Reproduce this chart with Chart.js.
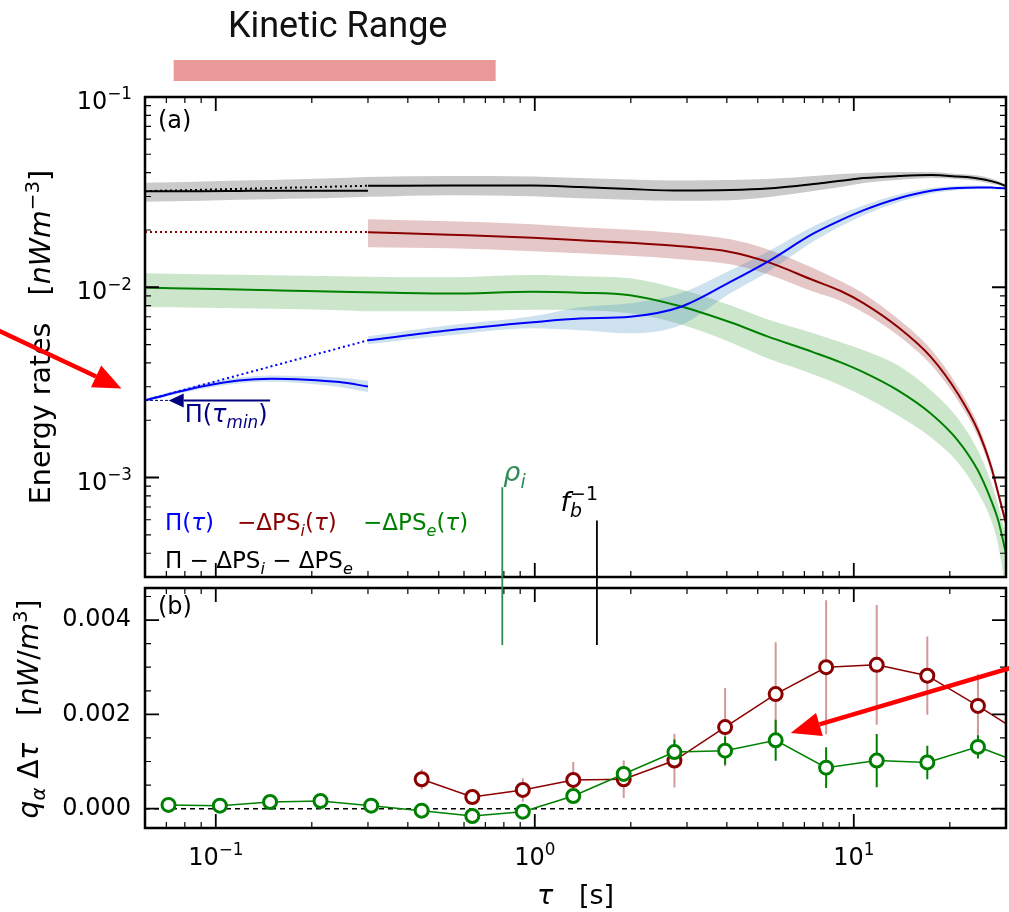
<!DOCTYPE html>
<html>
<head>
<meta charset="utf-8">
<script src="https://cdn.jsdelivr.net/npm/chart.js@4.4.0/dist/chart.umd.min.js"></script>
<style>
  html, body { margin: 0; padding: 0; background: #fff; }
  #wrap { position: relative; width: 1009px; height: 912px; }
  #wrap canvas { position: absolute; left: 0; top: 0; }
</style>
</head>
<body>
<div id="wrap">
  <canvas id="panelA" width="1009" height="912"></canvas>
  <canvas id="panelB" width="1009" height="912"></canvas>
</div>
<script>
// ---- panel (a): energy rates vs tau ----
const tauLow = [0.06, 0.0727, 0.0903, 0.118, 0.150, 0.192, 0.244, 0.30];
const tauHigh = [0.30, 0.541, 0.986, 1.385, 1.99, 2.86, 4.10, 5.36, 7.48, 9.10, 10.75, 13.75, 17.46, 21.2, 24.5, 26.97, 28.37, 30];
const tauAll = tauLow.concat(tauHigh.slice(1));
const tauBridge = [0.06, 0.30];

// Pi(tau)
const piLow = [0.002543, 0.002767, 0.003012, 0.003240, 0.003308, 0.003268, 0.003174, 0.003012];
const piLowHi = [0.002589, 0.002835, 0.003105, 0.003360, 0.003442, 0.003421, 0.003360, 0.003221];
const piLowLo = [0.002497, 0.002701, 0.002923, 0.003124, 0.003183, 0.003124, 0.002994, 0.002818];
const piHigh = [0.005262, 0.005938, 0.006543, 0.006843, 0.006994, 0.007873, 0.01066, 0.01359, 0.01917, 0.02252, 0.02543, 0.02929, 0.03213, 0.03320, 0.03348, 0.03340, 0.03320, 0.03308];
const piHighHi = [0.005522, 0.006310, 0.007037, 0.007848, 0.008234, 0.009299, 0.01229, 0.01538, 0.02095, 0.02422, 0.02701, 0.03068, 0.03320, 0.03402, 0.03422, 0.03402, 0.03380, 0.03360];
const piHighLo = [0.005012, 0.005589, 0.006084, 0.005938, 0.005725, 0.006310, 0.009299, 0.01199, 0.01747, 0.02095, 0.02393, 0.02801, 0.03105, 0.03240, 0.03280, 0.03280, 0.03260, 0.03260];
const piBridge = [0.002543, 0.005262];

// -dPS_i(tau)
const psiHigh = [0.01948, 0.01889, 0.01822, 0.01767, 0.01714, 0.01643, 0.01533, 0.01359, 0.01088, 0.009561, 0.008234, 0.006181, 0.004296, 0.002757, 0.001767, 0.001133, 0.0008234, 0.0005725];
const psiHi = [0.02280, 0.02226, 0.02146, 0.02069, 0.02007, 0.01924, 0.01789, 0.01585, 0.01259, 0.01079, 0.009243, 0.006827, 0.004718, 0.002994, 0.001901, 0.001207, 0.0008703, 0.0005974];
const psiLo = [0.01624, 0.01604, 0.01547, 0.01510, 0.01465, 0.01404, 0.01321, 0.01171, 0.009470, 0.008474, 0.007342, 0.005589, 0.003909, 0.002543, 0.001644, 0.001062, 0.0007800, 0.0005489];
const psiBridge = [0.0195, 0.0195];

// -dPS_e(tau)
const pse = [0.00996, 0.009892, 0.00982, 0.009737, 0.009643, 0.009550, 0.009469, 0.009412, 0.009265, 0.009469, 0.009355, 0.009078, 0.007943, 0.006543, 0.005522, 0.004549, 0.004030, 0.003569, 0.002870, 0.002164, 0.001565, 0.001088, 0.0007566, 0.0005937, 0.0003981];
const pseHi = [0.01185, 0.01178, 0.01171, 0.01164, 0.01157, 0.01150, 0.01143, 0.01136, 0.01129, 0.01160, 0.01143, 0.01115, 0.009760, 0.008040, 0.006786, 0.005725, 0.005134, 0.004661, 0.003886, 0.002870, 0.002045, 0.001387, 0.0009412, 0.0007123, 0.0004952];
const pseLo = [0.007876, 0.007848, 0.007800, 0.007753, 0.007706, 0.007660, 0.007568, 0.007477, 0.007477, 0.007620, 0.007568, 0.007298, 0.006386, 0.005134, 0.004230, 0.003484, 0.003049, 0.002669, 0.002120, 0.001624, 0.001199, 0.0008337, 0.0005937, 0.0004387, 0.00025];

// Pi - dPS_i - dPS_e
const resLow = [0.0320, 0.0320, 0.0320, 0.0321, 0.0322, 0.0322, 0.0322, 0.0322];
const resHigh = [0.03414, 0.03422, 0.03422, 0.03360, 0.03280, 0.03221, 0.03240, 0.03300, 0.03485, 0.03627, 0.03748, 0.03839, 0.03886, 0.03816, 0.03734, 0.03614, 0.03527, 0.03402];
const resHi = [0.03539, 0.03561, 0.03592, 0.03636, 0.03667, 0.03702, 0.03748, 0.03792, 0.03839, 0.03816, 0.03748, 0.03680, 0.03636, 0.03658, 0.03702, 0.03839, 0.03934, 0.03981, 0.04030, 0.04030, 0.03934, 0.03863, 0.03724, 0.03614, 0.03463];
const resLo = [0.02811, 0.02829, 0.02853, 0.02881, 0.02905, 0.02930, 0.02958, 0.02987, 0.03049, 0.03012, 0.02940, 0.02887, 0.02853, 0.02870, 0.02976, 0.03201, 0.03360, 0.03527, 0.03658, 0.03748, 0.03702, 0.03614, 0.03505, 0.03443, 0.03340];
const resBridge = [0.0320, 0.03414];

// ---- panel (b): heating per bin ----
const tauBins = [0.0711, 0.103, 0.148, 0.213, 0.307, 0.442, 0.637, 0.917, 1.32, 1.90, 2.74, 3.95, 5.69, 8.19, 11.8, 17.0, 24.5, 35.3];
const qE = [0.00008, 0.000064, 0.000142, 0.000163, 0.000064, -0.000042, -0.000155, -0.000064, 0.000269, 0.000736, 0.00120, 0.00123, 0.00145, 0.00087, 0.00102, 0.00098, 0.00131, 0.00091];
const qEErr = [0.00004, 0.00004, 0.00004, 0.00004, 0.00004, 0.00005, 0.00005, 0.00006, 0.0001, 0.00013, 0.000265, 0.0003, 0.000435, 0.00043, 0.000566, 0.000354, 0.000248, 0.00025];
const qI = [null, null, null, null, null, 0.000624, 0.000248, 0.000397, 0.000609, 0.000624, 0.00102, 0.00173, 0.00243, 0.00300, 0.00305, 0.00282, 0.00218, 0.0015];
const qIErr = [null, null, null, null, null, 0.00021, 0.0001, 0.00025, 0.00038, 0.0004, 0.00057, 0.00083, 0.0011, 0.00142, 0.00127, 0.00083, 0.00067, 0.0006];

// axes
const xMajor = [0.1, 1, 10];
const yMajorA = [1e-3, 1e-2, 1e-1];
const yMajorB = [0, 0.002, 0.004];
const yMinorB = [0.0005, 0.001, 0.0015, 0.0025, 0.003, 0.0035, 0.0045];

// annotations
const kineticRange = [0.0738, 0.754];
const rhoI = { tau: 0.791, top: 0.000889, bottom: 0.00347 };
const fbInv = { tau: 1.566, top: 0.000594, bottom: 0.00347 };
const piMin = { tau: 0.0712, tail: 0.148, value: 0.002543 };
const arrowA = { from: [0.0208, 0.005937], to: [0.0506, 0.00294] };
const arrowB = { from: [31, 0.002984], to: [6.34, 0.001606] };

const BLUE = '#0000ff', DARKRED = '#8b0000', GREEN = '#008000';
const MINUS = '\u2212';

const pts = (xs, ys) => xs.map((x, i) => ({ x, y: ys[i] })).filter(p => p.y !== null);

function lineSet(xs, ys, color, dotted) {
  return {
    data: pts(xs, ys), borderColor: color, borderWidth: 2,
    borderDash: dotted ? [2, 3] : [], pointRadius: 0, fill: false,
    cubicInterpolationMode: 'monotone'
  };
}

function bandSets(xs, hi, lo, color) {
  return [
    { data: pts(xs, hi), borderColor: 'rgba(0,0,0,0)', borderWidth: 0, pointRadius: 0,
      backgroundColor: color, fill: '+1', cubicInterpolationMode: 'monotone' },
    { data: pts(xs, lo), borderColor: 'rgba(0,0,0,0)', borderWidth: 0, pointRadius: 0,
      fill: false, cubicInterpolationMode: 'monotone' }
  ];
}

function logMinor(lo, hi) {
  const out = [];
  for (let d = Math.floor(Math.log10(lo)); d <= Math.ceil(Math.log10(hi)); d++) {
    for (let m = 2; m <= 9; m++) {
      const v = m * Math.pow(10, d);
      if (v > lo * 1.001 && v < hi * 0.999) out.push(v);
    }
  }
  return out;
}

function expo(v) {
  const e = Math.round(Math.log10(v));
  return e < 0 ? MINUS + (-e) : String(e);
}

// mathtext-like runs: kind '' roman, 'i' italic, 'b' subscript, 'p' superscript, 'n' no advance
function richText(ctx, x, y, parts, size, align, color) {
  const segs = parts.map(([t, k = '']) => {
    const small = k.includes('b') || k.includes('p');
    const fs = small ? size * 0.7 : size;
    const font = (k.includes('i') ? 'italic ' : '') + fs.toFixed(1) + 'px "DejaVu Sans"';
    ctx.font = font;
    const w = ctx.measureText(t).width;
    return { t, font, w, adv: k.includes('n') ? 0 : w,
      dy: k.includes('b') ? size * 0.25 : k.includes('p') ? -size * 0.4 : 0 };
  });
  const total = segs.reduce((s, g) => s + g.adv, 0) + (segs.length ? segs[segs.length - 1].w - segs[segs.length - 1].adv : 0);
  let cx = align === 'center' ? x - total / 2 : align === 'right' ? x - total : x;
  ctx.save();
  ctx.fillStyle = color || '#000';
  ctx.textAlign = 'left';
  ctx.textBaseline = 'alphabetic';
  segs.forEach(g => { ctx.font = g.font; ctx.fillText(g.t, cx, y + g.dy); cx += g.adv; });
  ctx.restore();
}

function rotatedText(ctx, x, y, parts, size) {
  ctx.save();
  ctx.translate(x, y);
  ctx.rotate(-Math.PI / 2);
  richText(ctx, 0, 0, parts, size, 'center', '#000');
  ctx.restore();
}

function arrow(ctx, x0, y0, x1, y1, color, width, headLen, headHalf) {
  const ang = Math.atan2(y1 - y0, x1 - x0);
  const bx = x1 - headLen * Math.cos(ang), by = y1 - headLen * Math.sin(ang);
  ctx.save();
  ctx.strokeStyle = color; ctx.fillStyle = color; ctx.lineWidth = width;
  ctx.beginPath(); ctx.moveTo(x0, y0); ctx.lineTo(bx, by); ctx.stroke();
  ctx.beginPath();
  ctx.moveTo(x1, y1);
  ctx.lineTo(bx + headHalf * Math.sin(ang), by - headHalf * Math.cos(ang));
  ctx.lineTo(bx - headHalf * Math.sin(ang), by + headHalf * Math.cos(ang));
  ctx.closePath(); ctx.fill();
  ctx.restore();
}

// box with inward ticks on all four sides
function drawFrame(chart, xMaj, xMin, yMaj, yMin) {
  const { ctx, chartArea: a, scales: { x, y } } = chart;
  ctx.save();
  ctx.strokeStyle = '#000';
  const marks = (vals, len, w, horiz) => {
    ctx.lineWidth = w;
    ctx.beginPath();
    vals.forEach(v => {
      if (horiz) {
        const px = x.getPixelForValue(v);
        ctx.moveTo(px, a.top); ctx.lineTo(px, a.top + len);
        ctx.moveTo(px, a.bottom); ctx.lineTo(px, a.bottom - len);
      } else {
        const py = y.getPixelForValue(v);
        ctx.moveTo(a.left, py); ctx.lineTo(a.left + len, py);
        ctx.moveTo(a.right, py); ctx.lineTo(a.right - len, py);
      }
    });
    ctx.stroke();
  };
  marks(xMin, 6, 1.2, true);
  marks(xMaj, 14, 1.8, true);
  marks(yMin, 6, 1.2, false);
  marks(yMaj, 14, 1.8, false);
  ctx.lineWidth = 2.5;
  ctx.strokeRect(a.left, a.top, a.right - a.left, a.bottom - a.top);
  ctx.restore();
}

const panelADecor = {
  id: 'panelADecor',
  afterDraw(chart) {
    const { ctx, chartArea: a, scales: { x, y } } = chart;
    drawFrame(chart, xMajor, logMinor(0.06, 30), yMajorA, logMinor(3e-4, 0.1));

    yMajorA.forEach(v => richText(ctx, a.left - 13, y.getPixelForValue(v) + 12,
      [['10'], [expo(v), 'p']], 24, 'right'));

    rotatedText(ctx, 50, (a.top + a.bottom) / 2,
      [['Energy rates   ['], ['nWm', 'i'], [MINUS + '3', 'p'], [']']], 28.5);

    richText(ctx, a.left + 13, a.top + 31, [['(a)']], 24, 'left');

    // legend
    const l1 = a.bottom - 47, l2 = a.bottom - 9;
    richText(ctx, a.left + 20, l1, [['\u03a0('], ['\u03c4', 'i'], [')']], 23, 'left', BLUE);
    richText(ctx, a.left + 92, l1, [[MINUS + '\u0394PS'], ['i', 'bi'], ['('], ['\u03c4', 'i'], [')']], 23, 'left', DARKRED);
    richText(ctx, a.left + 218, l1, [[MINUS + '\u0394PS'], ['e', 'bi'], ['('], ['\u03c4', 'i'], [')']], 23, 'left', GREEN);
    richText(ctx, a.left + 20, l2, [['\u03a0 ' + MINUS + ' \u0394PS'], ['i', 'bi'], [' ' + MINUS + ' \u0394PS'], ['e', 'bi']], 23, 'left', '#000');

    // Pi(tau_min) marker
    const tipX = x.getPixelForValue(piMin.tau), tailX = x.getPixelForValue(piMin.tail);
    const py = y.getPixelForValue(piMin.value);
    ctx.save();
    ctx.strokeStyle = 'navy'; ctx.lineWidth = 1; ctx.setLineDash([3, 2]);
    ctx.beginPath(); ctx.moveTo(a.left, py); ctx.lineTo(tipX, py); ctx.stroke();
    ctx.restore();
    arrow(ctx, tailX, py, tipX, py, 'navy', 2, 15, 7);
    richText(ctx, tipX + 16, py + 22, [['\u03a0('], ['\u03c4', 'i'], ['min', 'bi'], [')']], 24, 'left', 'navy');

    // kinetic range bar
    const k0 = x.getPixelForValue(kineticRange[0]), k1 = x.getPixelForValue(kineticRange[1]);
    ctx.save();
    ctx.fillStyle = '#ea9999';
    ctx.fillRect(k0, 60, k1 - k0, 21);
    ctx.fillStyle = '#111';
    ctx.font = '36px Roboto';
    ctx.textAlign = 'center';
    ctx.textBaseline = 'alphabetic';
    ctx.fillText('Kinetic Range', (k0 + k1) / 2 + 3, 37);
    ctx.restore();

    arrow(ctx, x.getPixelForValue(arrowA.from[0]), y.getPixelForValue(arrowA.from[1]),
      x.getPixelForValue(arrowA.to[0]), y.getPixelForValue(arrowA.to[1]), '#ff0000', 4.5, 28, 12);
  }
};

const chartA = new Chart(document.getElementById('panelA'), {
  type: 'line',
  data: {
    datasets: [
      lineSet(tauLow, resLow, '#000'),
      lineSet(tauHigh, resHigh, '#000'),
      lineSet(tauBridge, resBridge, '#000', true),
      lineSet(tauLow, piLow, BLUE),
      lineSet(tauHigh, piHigh, BLUE),
      lineSet(tauBridge, piBridge, BLUE, true),
      lineSet(tauHigh, psiHigh, DARKRED),
      lineSet(tauBridge, psiBridge, DARKRED, true),
      lineSet(tauAll, pse, GREEN),
      ...bandSets(tauLow, piLowHi, piLowLo, 'rgba(31,119,180,0.22)'),
      ...bandSets(tauHigh, piHighHi, piHighLo, 'rgba(31,119,180,0.22)'),
      ...bandSets(tauHigh, psiHi, psiLo, 'rgba(139,0,0,0.22)'),
      ...bandSets(tauAll, pseHi, pseLo, 'rgba(0,128,0,0.2)'),
      ...bandSets(tauAll, resHi, resLo, 'rgba(128,128,128,0.42)')
    ]
  },
  options: {
    responsive: false, animation: false, events: [], devicePixelRatio: 1,
    layout: { autoPadding: false, padding: { top: 97, right: 3, bottom: 335, left: 145 } },
    plugins: { legend: { display: false }, tooltip: { enabled: false } },
    scales: {
      x: { type: 'logarithmic', min: 0.06, max: 30, display: false },
      y: { type: 'logarithmic', min: 3e-4, max: 0.1, display: false }
    }
  },
  plugins: [panelADecor]
});

const panelBDecor = {
  id: 'panelBDecor',
  beforeDatasetsDraw(chart) {
    const { ctx, chartArea: a, scales: { x, y } } = chart;
    ctx.save();
    ctx.beginPath(); ctx.rect(a.left, a.top, a.right - a.left, a.bottom - a.top); ctx.clip();
    const y0 = y.getPixelForValue(0);
    ctx.strokeStyle = '#000'; ctx.lineWidth = 1.5; ctx.setLineDash([5, 4]);
    ctx.beginPath(); ctx.moveTo(a.left, y0); ctx.lineTo(a.right, y0); ctx.stroke();
    ctx.setLineDash([]);
    const bars = (vals, errs, color) => {
      ctx.strokeStyle = color; ctx.lineWidth = 2;
      ctx.beginPath();
      vals.forEach((v, i) => {
        if (v === null) return;
        const px = x.getPixelForValue(tauBins[i]);
        ctx.moveTo(px, y.getPixelForValue(v - errs[i]));
        ctx.lineTo(px, y.getPixelForValue(v + errs[i]));
      });
      ctx.stroke();
    };
    bars(qI, qIErr, 'rgba(139,0,0,0.4)');
    bars(qE, qEErr, GREEN);
    ctx.restore();
  },
  afterDraw(chart) {
    const { ctx, chartArea: a, scales: { x, y } } = chart;
    drawFrame(chart, xMajor, logMinor(0.06, 30), yMajorB, yMinorB);

    xMajor.forEach(v => richText(ctx, x.getPixelForValue(v), a.bottom + 37,
      [['10'], [expo(v), 'p']], 24, 'center'));
    richText(ctx, (a.left + a.right) / 2, 904, [['\u03c4', 'i'], ['   [s]']], 27, 'center');

    rotatedText(ctx, 38, (a.top + a.bottom) / 2 + 1,
      [['q', 'i'], ['\u03b1', 'bi'], [' \u0394'], ['\u03c4', 'i'], ['   ['], ['nW', 'i'], ['/'], ['m', 'i'], ['3', 'p'], [']']], 28);

    richText(ctx, a.left + 13, a.top + 26, [['(b)']], 24, 'left');

    // characteristic scales spanning both panels
    const yA = chartA.scales.y;
    [[rhoI, 'seagreen'], [fbInv, '#000']].forEach(([m, color]) => {
      const px = x.getPixelForValue(m.tau);
      ctx.save();
      ctx.strokeStyle = color; ctx.lineWidth = 1.8;
      ctx.beginPath(); ctx.moveTo(px, yA.getPixelForValue(m.top)); ctx.lineTo(px, y.getPixelForValue(m.bottom)); ctx.stroke();
      ctx.restore();
    });
    const rx = x.getPixelForValue(rhoI.tau), ry = yA.getPixelForValue(rhoI.top);
    richText(ctx, rx + 1, ry - 6, [['\u03c1', 'i'], ['i', 'bi']], 27, 'left', 'seagreen');
    const fx = x.getPixelForValue(fbInv.tau), fy = yA.getPixelForValue(fbInv.top);
    richText(ctx, fx + 1, fy - 10, [['f', 'i'], ['b', 'bin'], [MINUS + '1', 'p']], 27, 'right', '#000');

    arrow(ctx, x.getPixelForValue(arrowB.from[0]), y.getPixelForValue(arrowB.from[1]),
      x.getPixelForValue(arrowB.to[0]), y.getPixelForValue(arrowB.to[1]), '#ff0000', 4.5, 30, 12);
  }
};

const chartB = new Chart(document.getElementById('panelB'), {
  type: 'line',
  data: {
    datasets: [
      { data: pts(tauBins, qE), borderColor: GREEN, borderWidth: 1.5, pointRadius: 6.5, pointBorderWidth: 3,
        pointBackgroundColor: '#fff', pointBorderColor: GREEN, tension: 0 },
      { data: pts(tauBins, qI), borderColor: DARKRED, borderWidth: 1.5, pointRadius: 6.5, pointBorderWidth: 3,
        pointBackgroundColor: '#fff', pointBorderColor: DARKRED, tension: 0 }
    ]
  },
  options: {
    responsive: false, animation: false, events: [], devicePixelRatio: 1,
    layout: { autoPadding: false, padding: { top: 588, right: 3, bottom: 84, left: 0 } },
    plugins: { legend: { display: false }, tooltip: { enabled: false } },
    scales: {
      x: { type: 'logarithmic', min: 0.06, max: 30, display: false },
      y: {
        type: 'linear', min: -0.00041, max: 0.00468,
        grid: { display: false, drawTicks: false },
        border: { display: false },
        ticks: { autoSkip: false, padding: 14, color: '#000',
          font: { family: 'DejaVu Sans', size: 24 },
          callback: v => v.toFixed(3) },
        afterBuildTicks: s => { s.ticks = yMajorB.map(v => ({ value: v })); },
        afterFit: s => { s.width = 145; }
      }
    }
  },
  plugins: [panelBDecor]
});
</script>
</body>
</html>
